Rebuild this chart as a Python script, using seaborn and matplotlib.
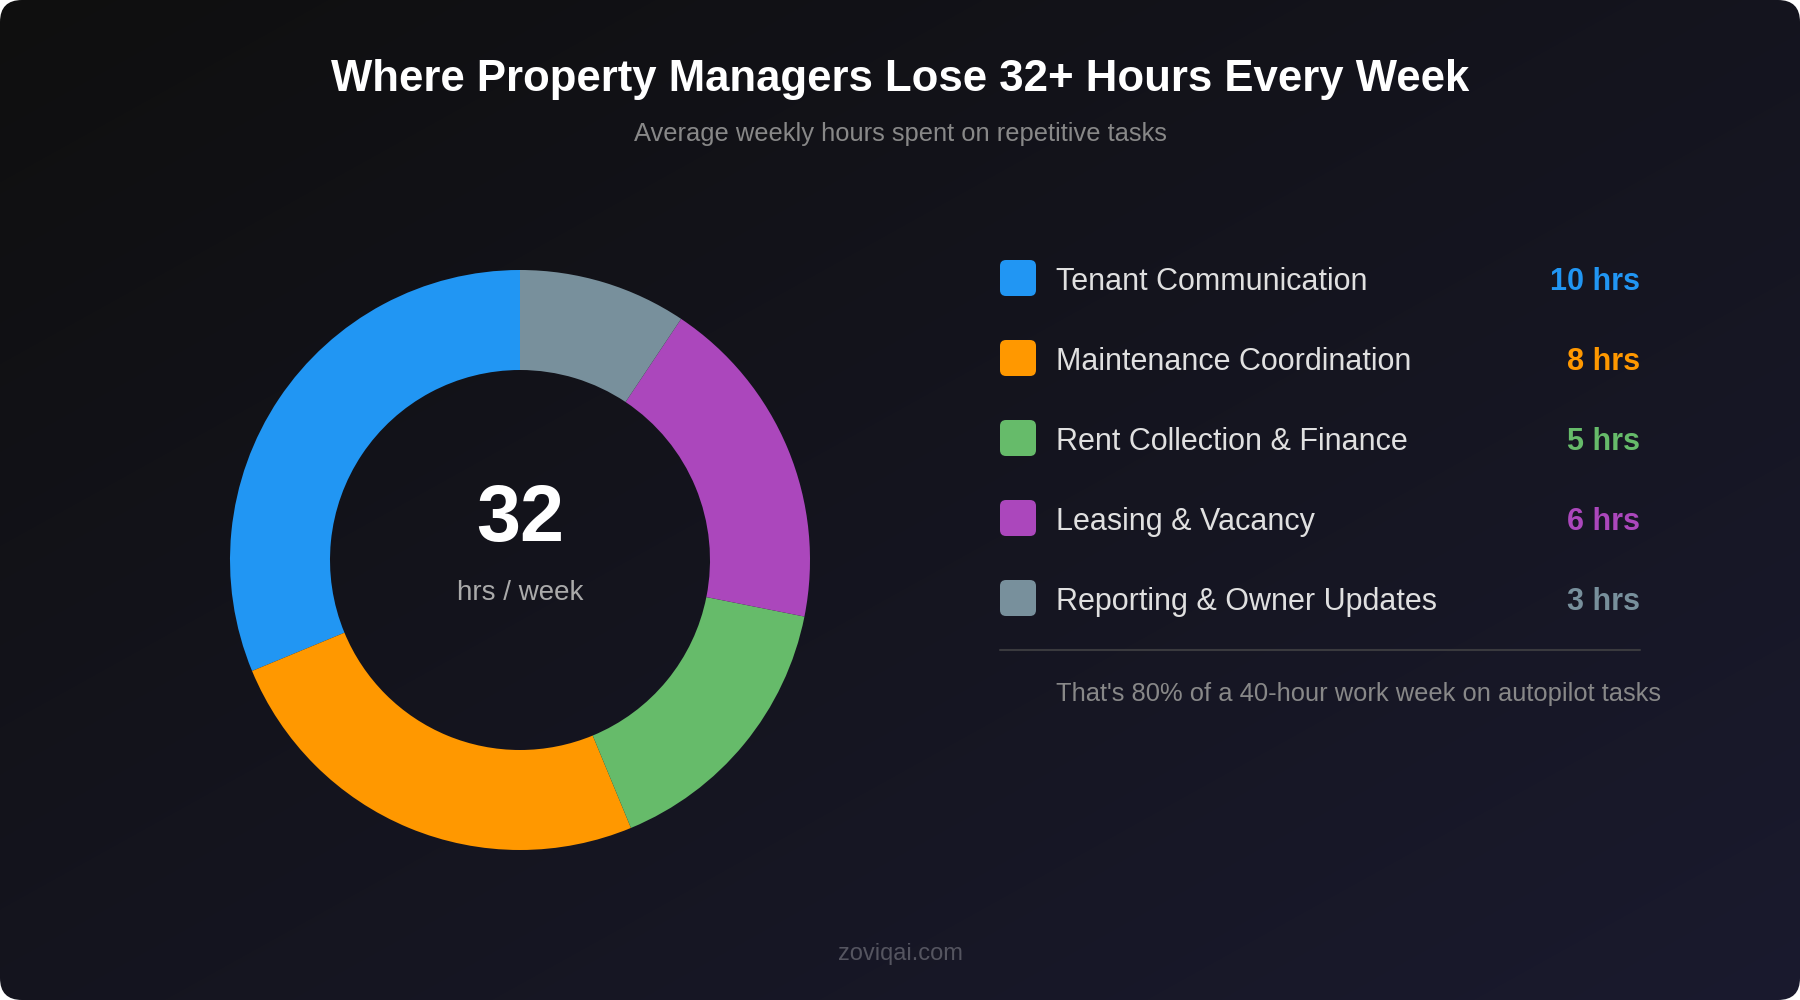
import numpy as np
import matplotlib.pyplot as plt
from matplotlib.patches import FancyBboxPatch
import seaborn as sns

# data
tasks = ['Tenant Communication', 'Maintenance Coordination', 'Rent Collection & Finance',
         'Leasing & Vacancy', 'Reporting & Owner Updates']
hours = [10, 8, 5, 6, 3]
colors = ['#2196F3', '#FF9800', '#66BB6A', '#AB47BC', '#78909C']
total_label = '32'

sns.set_theme(style='dark')
plt.rcParams['font.family'] = ['Liberation Sans', 'DejaVu Sans']

W, H = 1800, 1000
fig = plt.figure(figsize=(18, 10), dpi=100)
fig.patch.set_facecolor('white')

# background gradient with rounded corners
bg = fig.add_axes([0, 0, 1, 1])
bg.set_xlim(0, W)
bg.set_ylim(H, 0)
bg.axis('off')
yy, xx = np.mgrid[0:H, 0:W]
t = (xx / W + yy / H) / 2
c0 = np.array([0x0f, 0x0f, 0x0f]) / 255
c1 = np.array([0x1a, 0x1a, 0x2e]) / 255
grad = c0 + (c1 - c0) * t[..., None]
im = bg.imshow(grad, extent=(0, W, H, 0), zorder=0)
frame = FancyBboxPatch((0, 0), W, H, boxstyle='round,pad=0,rounding_size=22',
                       transform=bg.transData, facecolor='none', edgecolor='none')
bg.add_patch(frame)
im.set_clip_path(frame)

# donut
cx, cy, R = 520, 560, 290
ax = fig.add_axes([(cx - R) / W, (H - cy - R) / H, 2 * R / W, 2 * R / H])
ax.pie(hours, colors=colors, startangle=90, counterclock=True, radius=1,
       wedgeprops=dict(width=100 / R, linewidth=0, edgecolor='none'))
ax.set_xlim(-1, 1)
ax.set_ylim(-1, 1)
ax.set_aspect('equal')
ax.axis('off')

# text overlay
ov = fig.add_axes([0, 0, 1, 1])
ov.set_xlim(0, W)
ov.set_ylim(H, 0)
ov.axis('off')
ov.patch.set_alpha(0)

ov.text(900, 79, 'Where Property Managers Lose 32+ Hours Every Week', ha='center', va='center',
        fontsize=31.5, fontweight='bold', color='white')
ov.text(900, 134, 'Average weekly hours spent on repetitive tasks', ha='center', va='center',
        fontsize=18.4, color='#888888')

ov.text(cx, 520, total_label, ha='center', va='center', fontsize=57, fontweight='bold', color='white')
ov.text(cx, 593, 'hrs / week', ha='center', va='center', fontsize=20, color='#aaaaaa')

row_y = [282, 362, 442, 522, 602]
for task, h, col, y in zip(tasks, hours, colors, row_y):
    sw = FancyBboxPatch((1000, y - 22), 36, 36, boxstyle='round,pad=0,rounding_size=6',
                        facecolor=col, edgecolor='none', transform=ov.transData)
    ov.add_patch(sw)
    ov.text(1056, y, task, ha='left', va='center', fontsize=22, color='#e0e0e0')
    ov.text(1640, y, f'{h} hrs', ha='right', va='center', fontsize=22, fontweight='bold', color=col)

ov.plot([1000, 1640], [650, 650], color='#3a3a3e', linewidth=1.5)
ov.text(1056, 694, "That's 80% of a 40-hour work week on autopilot tasks", ha='left', va='center',
        fontsize=18.4, color='#888888')

ov.text(900, 954, 'zoviqai.com', ha='center', va='center', fontsize=17, color='#555560')

plt.savefig('out.png', dpi=100, facecolor=fig.get_facecolor())
plt.close()
